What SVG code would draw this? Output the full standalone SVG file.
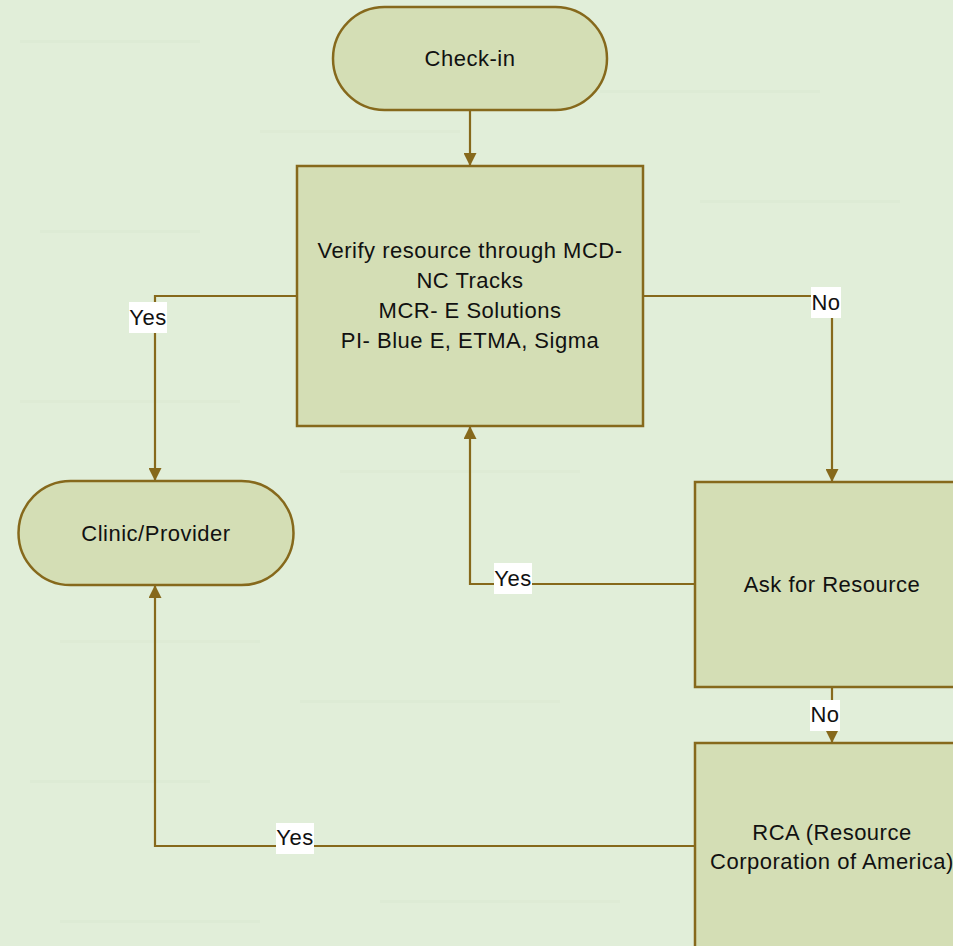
<svg xmlns="http://www.w3.org/2000/svg" width="953" height="946" viewBox="0 0 953 946">
<defs>
<marker id="arr" markerUnits="userSpaceOnUse" markerWidth="13" markerHeight="13" refX="13" refY="6.5" orient="auto">
<path d="M0,0 L13,6.5 L0,13 z" fill="#86691c"/>
</marker>
<style>
.node{fill:#d4deb5;stroke:#86691c;stroke-width:2.5}
.t{font-family:"Liberation Sans",Arial,sans-serif;font-size:22px;letter-spacing:0.5px;fill:#111;text-anchor:middle}
.conn{fill:none;stroke:#86691c;stroke-width:2.2;marker-end:url(#arr)}
.lbg{fill:#ffffff}
</style>
</defs>
<rect x="0" y="0" width="953" height="946" fill="#e1eed9"/>
<g opacity="0.3" fill="#d6e6cc">
<rect x="20" y="40" width="180" height="3"/><rect x="260" y="130" width="200" height="3"/><rect x="600" y="90" width="220" height="3"/>
<rect x="40" y="230" width="160" height="3"/><rect x="700" y="200" width="200" height="3"/><rect x="20" y="400" width="220" height="3"/>
<rect x="340" y="470" width="240" height="3"/><rect x="60" y="640" width="200" height="3"/><rect x="300" y="700" width="260" height="3"/>
<rect x="30" y="780" width="180" height="3"/><rect x="380" y="900" width="240" height="3"/><rect x="60" y="920" width="200" height="3"/>
</g>
<g id="connectors">
<path class="conn" d="M470,110 V166"/>
<path class="conn" d="M297,296 H155 V481"/>
<path class="conn" d="M643,296 H832 V482"/>
<path class="conn" d="M695,584 H470 V426"/>
<path class="conn" d="M832,687 V743"/>
<path class="conn" d="M695,846 H155 V585"/>
<rect class="lbg" x="129" y="302" width="38" height="31"/>
<text class="t" x="148" y="325">Yes</text>
<rect class="lbg" x="811" y="287" width="30" height="31"/>
<text class="t" x="826" y="310">No</text>
<rect class="lbg" x="494" y="563" width="38" height="31"/>
<text class="t" x="513" y="586">Yes</text>
<rect class="lbg" x="810" y="700" width="30" height="31"/>
<text class="t" x="825" y="722">No</text>
<rect class="lbg" x="276" y="823" width="38" height="31"/>
<text class="t" x="295" y="845">Yes</text>
</g>
<g id="checkin">
<rect class="node" x="333" y="7" width="274" height="103" rx="51.5"/>
<text class="t" x="470" y="66">Check-in</text>
</g>
<g id="verify">
<rect class="node" x="297" y="166" width="346" height="260"/>
<text class="t" x="470" y="258">Verify resource through MCD-</text>
<text class="t" x="470" y="288">NC Tracks</text>
<text class="t" x="470" y="318">MCR- E Solutions</text>
<text class="t" x="470" y="348">PI- Blue E, ETMA, Sigma</text>
</g>
<g id="clinic">
<rect class="node" x="18.5" y="481" width="275" height="104" rx="52"/>
<text class="t" x="156" y="541">Clinic/Provider</text>
</g>
<g id="ask">
<rect class="node" x="695" y="482" width="274" height="205"/>
<text class="t" x="832" y="592">Ask for Resource</text>
</g>
<g id="rca">
<rect class="node" x="695" y="743" width="274" height="206"/>
<text class="t" x="832" y="840">RCA (Resource</text>
<text class="t" x="832" y="869">Corporation of America)</text>
</g>
</svg>
